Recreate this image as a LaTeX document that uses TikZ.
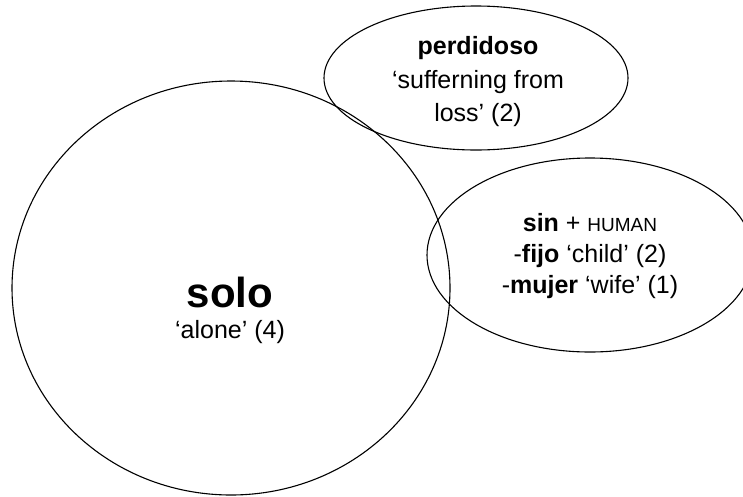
\documentclass[tikz,border=0pt]{standalone}
\usepackage{fontspec}
\setmainfont{Liberation Sans}
\begin{document}
\begin{tikzpicture}[x=1pt,y=-1pt,
  venn/.style={draw=black,line width=1.1pt},
  lbl/.style={align=center,inner sep=0pt,font=\fontsize{25}{32}\selectfont}]
\useasboundingbox (0,0) rectangle (743,496);
\clip (0,0) rectangle (743,496);
\draw[venn] (231,288) ellipse [x radius=219pt, y radius=207pt];
\draw[venn] (476,78) ellipse [x radius=152pt, y radius=72pt];
\draw[venn] (590,255) ellipse [x radius=163pt, y radius=97pt];
\node[lbl, font=\fontsize{25}{33.5}\selectfont] (perd) at (478,82) {\textbf{perdidoso}\\‘sufferning from\\loss’ (2)};
\node[lbl, font=\fontsize{25}{31}\selectfont] (sin) at (590,256) {\textbf{sin} + {\fontsize{19}{31}\selectfont HUMAN}\\-\textbf{fijo} ‘child’ (2)\\-\textbf{mujer} ‘wife’ (1)};
\node[font=\fontsize{42}{42}\selectfont\bfseries, anchor=base, inner sep=0pt] (solo) at (230,307) {solo};
\node[lbl, anchor=base] (gloss) at (230,338) {‘alone’ (4)};
\end{tikzpicture}
\end{document}
